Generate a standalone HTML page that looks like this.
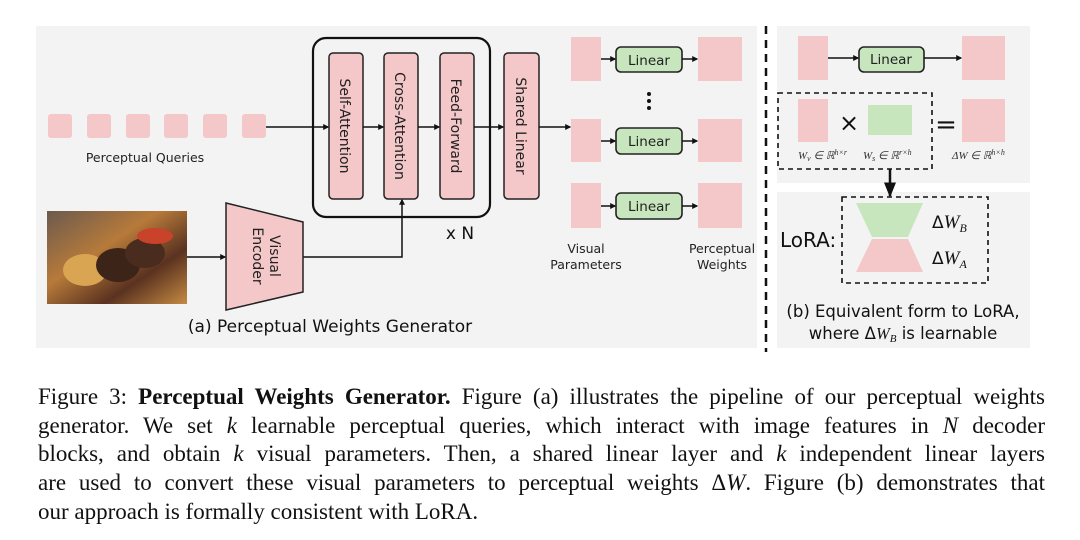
<!DOCTYPE html>
<html><head><meta charset="utf-8"><style>
html,body{margin:0;padding:0;background:#fff;width:1080px;height:540px;overflow:hidden}
.cap{position:absolute;left:38px;width:1007px;top:383px;font-family:"Liberation Serif",serif;font-size:23px;color:#111}
.cap div{height:28.7px;line-height:28.7px;text-align:justify;text-align-last:justify;white-space:nowrap}
.cap div.last{text-align-last:left}
</style></head><body>
<svg width="1080" height="380" style="position:absolute;left:0;top:0" font-family="'DejaVu Sans','Liberation Sans',sans-serif">
<defs>
<marker id="a" viewBox="0 0 10 10" refX="9" refY="5" markerWidth="6" markerHeight="6" orient="auto"><path d="M0,1 L10,5 L0,9z" fill="#111"/></marker>
<marker id="b" viewBox="0 0 10 10" refX="8" refY="5" markerWidth="4" markerHeight="4" orient="auto"><path d="M0,0 L10,5 L0,10z" fill="#111"/></marker>
<linearGradient id="img" x1="0" y1="0" x2="1" y2="1"><stop offset="0" stop-color="#6b5a4e"/><stop offset="0.4" stop-color="#b77a3a"/><stop offset="0.7" stop-color="#5a3220"/><stop offset="1" stop-color="#c58a42"/></linearGradient>
</defs>
<rect x="36" y="26" width="721" height="322" fill="#f3f3f3"/>
<rect x="777" y="26" width="253" height="157" fill="#f3f3f3"/>
<rect x="777" y="192" width="253" height="156" fill="#f3f3f3"/>
<g fill="#f4c7c9">
<rect x="48" y="114" width="24" height="24" rx="3"/><rect x="87" y="114" width="24" height="24" rx="3"/><rect x="126" y="114" width="24" height="24" rx="3"/><rect x="164" y="114" width="24" height="24" rx="3"/><rect x="203" y="114" width="24" height="24" rx="3"/><rect x="242" y="114" width="24" height="24" rx="3"/>
</g>
<text x="145" y="162" font-size="12.5" text-anchor="middle" fill="#222">Perceptual Queries</text>
<rect x="313" y="38" width="177" height="179" rx="13" fill="none" stroke="#111" stroke-width="2.2"/>
<g fill="#f4c7c9" stroke="#222" stroke-width="1.5">
<rect x="329" y="53" width="34" height="146" rx="4"/><rect x="384" y="53" width="34" height="146" rx="4"/><rect x="440" y="53" width="34" height="146" rx="4"/><rect x="504" y="53" width="35" height="146" rx="4"/>
</g>
<g font-size="14" fill="#222" text-anchor="middle">
<text transform="translate(340,126) rotate(90)" dy="0">Self-Attention</text>
<text transform="translate(395,126) rotate(90)">Cross-Attention</text>
<text transform="translate(451,126) rotate(90)">Feed-Forward</text>
<text transform="translate(516,126) rotate(90)">Shared Linear</text>
</g>
<g stroke="#111" stroke-width="1.5" fill="none" marker-end="url(#b)">
<line x1="266" y1="127" x2="328" y2="127"/><line x1="363" y1="127" x2="383" y2="127"/><line x1="418" y1="127" x2="439" y2="127"/><line x1="474" y1="127" x2="503" y2="127"/><line x1="539" y1="127" x2="570" y2="127"/>
<line x1="187" y1="257" x2="225" y2="257"/>
<polyline points="303,257 402,257 402,200"/>
</g>
<text x="460" y="239" font-size="17" text-anchor="middle" fill="#111">x N</text>
<rect x="47" y="211" width="140" height="93" fill="url(#img)"/>
<ellipse cx="85" cy="270" rx="22" ry="16" fill="#d9a552"/><ellipse cx="118" cy="265" rx="22" ry="17" fill="#3d2418"/><ellipse cx="145" cy="253" rx="20" ry="15" fill="#4a2c1e"/><ellipse cx="155" cy="236" rx="18" ry="8" fill="#c9422a"/>
<polygon points="226,203 303,222 303,292 226,310" fill="#f4c7c9" stroke="#222" stroke-width="1.5"/>
<g font-size="14" fill="#222" text-anchor="middle"><text transform="translate(266,256) rotate(90)" dy="-4">Visual</text><text transform="translate(266,256) rotate(90)" dy="13">Encoder</text></g>
<text x="330" y="332" font-size="17" text-anchor="middle" fill="#111">(a) Perceptual Weights Generator</text>
<g fill="#f4c7c9">
<rect x="571" y="37" width="30" height="44"/><rect x="571" y="119" width="30" height="43"/><rect x="571" y="183" width="30" height="45"/>
<rect x="698" y="37" width="44" height="44"/><rect x="698" y="119" width="44" height="43"/><rect x="698" y="183" width="44" height="45"/>
</g>
<g fill="#c8e6bd" stroke="#222" stroke-width="1.6">
<rect x="616" y="47" width="66" height="25" rx="5"/><rect x="616" y="128" width="66" height="26" rx="5"/><rect x="616" y="193" width="66" height="26" rx="5"/>
</g>
<g font-size="13.5" fill="#222" text-anchor="middle"><text x="649" y="65">Linear</text><text x="649" y="146">Linear</text><text x="649" y="211">Linear</text></g>
<g stroke="#111" stroke-width="1.5" marker-end="url(#b)">
<line x1="601" y1="59" x2="615" y2="59"/><line x1="682" y1="59" x2="697" y2="59"/>
<line x1="601" y1="141" x2="615" y2="141"/><line x1="682" y1="141" x2="697" y2="141"/>
<line x1="601" y1="206" x2="615" y2="206"/><line x1="682" y1="206" x2="697" y2="206"/>
</g>
<g fill="#111"><circle cx="649" cy="94" r="2"/><circle cx="649" cy="101" r="2"/><circle cx="649" cy="108" r="2"/></g>
<g font-size="12.5" fill="#222" text-anchor="middle"><text x="586" y="253">Visual</text><text x="586" y="269">Parameters</text><text x="722" y="253">Perceptual</text><text x="722" y="269">Weights</text></g>
<line x1="766" y1="26" x2="766" y2="352" stroke="#111" stroke-width="2.5" stroke-dasharray="8,6"/>
<g fill="#f4c7c9"><rect x="798" y="36" width="30" height="44"/><rect x="962" y="36" width="43" height="44"/><rect x="798" y="99" width="30" height="43"/><rect x="962" y="99" width="43" height="43"/></g>
<rect x="868" y="105" width="44" height="30" fill="#c8e6bd"/>
<rect x="859" y="47" width="65" height="25" rx="5" fill="#c8e6bd" stroke="#222" stroke-width="1.6"/>
<text x="891" y="64" font-size="13.5" text-anchor="middle" fill="#222">Linear</text>
<g stroke="#111" stroke-width="1.5" marker-end="url(#b)"><line x1="828" y1="58" x2="858" y2="58"/><line x1="924" y1="58" x2="961" y2="58"/></g>
<rect x="778" y="93" width="154" height="76" fill="none" stroke="#111" stroke-width="1.6" stroke-dasharray="5,4"/>
<text x="849" y="131" font-size="24" text-anchor="middle" fill="#111">×</text>
<text x="946" y="133" font-size="26" text-anchor="middle" fill="#111">=</text>
<g font-family="'Liberation Serif',serif" font-size="11" font-style="italic" fill="#333">
<text x="798" y="159">W<tspan font-size="8" dy="2">v</tspan><tspan dy="-2"> ∈ ℝ</tspan><tspan font-size="8" dy="-4">h×r</tspan></text>
<text x="863" y="159">W<tspan font-size="8" dy="2">s</tspan><tspan dy="-2"> ∈ ℝ</tspan><tspan font-size="8" dy="-4">r×h</tspan></text>
<text x="952" y="159">ΔW ∈ ℝ<tspan font-size="8" dy="-4">h×h</tspan></text>
</g>
<line x1="890" y1="169" x2="890" y2="196" stroke="#111" stroke-width="2.5" marker-end="url(#a)"/>
<rect x="842" y="197" width="146" height="86" fill="none" stroke="#111" stroke-width="1.6" stroke-dasharray="5,4"/>
<polygon points="856,203 923,203 908,237 872,237" fill="#c8e6bd"/>
<polygon points="872,239 908,239 923,272 856,272" fill="#f4c7c9"/>
<text x="780" y="247" font-size="20" fill="#111">LoRA:</text>
<g font-family="'DejaVu Sans',sans-serif" font-size="17" fill="#111"><text x="932" y="228">Δ<tspan font-family="'Liberation Serif',serif" font-style="italic" font-size="19">W</tspan><tspan font-family="'Liberation Serif',serif" font-style="italic" font-size="12" dy="4">B</tspan></text>
<text x="932" y="264">Δ<tspan font-family="'Liberation Serif',serif" font-style="italic" font-size="19">W</tspan><tspan font-family="'Liberation Serif',serif" font-style="italic" font-size="12" dy="4">A</tspan></text></g>
<g font-size="16.5" fill="#111" text-anchor="middle"><text x="903" y="317">(b) Equivalent form to LoRA,</text><text x="903" y="339">where Δ<tspan font-family="'Liberation Serif',serif" font-style="italic">W</tspan><tspan font-family="'Liberation Serif',serif" font-style="italic" font-size="11" dy="3">B</tspan><tspan dy="-3"> is learnable</tspan></text></g>
</svg>
<div class="cap">
<div>Figure 3: <b>Perceptual Weights Generator.</b> Figure (a) illustrates the pipeline of our perceptual weights</div>
<div>generator. We set <i>k</i> learnable perceptual queries, which interact with image features in <i>N</i> decoder</div>
<div>blocks, and obtain <i>k</i> visual parameters. Then, a shared linear layer and <i>k</i> independent linear layers</div>
<div>are used to convert these visual parameters to perceptual weights Δ<i>W</i>. Figure (b) demonstrates that</div>
<div class="last">our approach is formally consistent with LoRA.</div>
</div>
</body></html>
